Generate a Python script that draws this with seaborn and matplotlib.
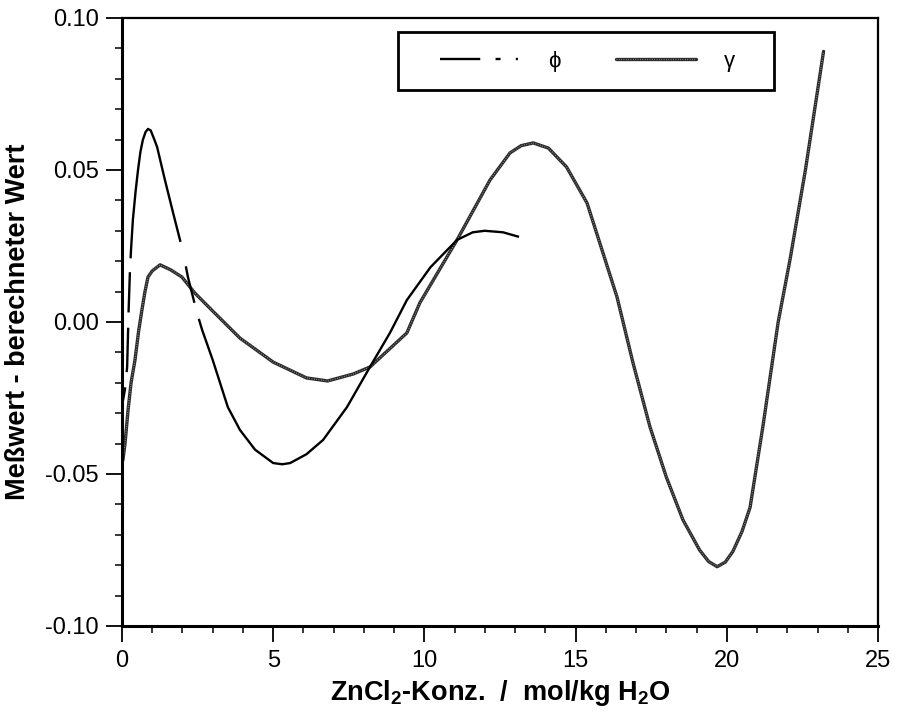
import matplotlib
matplotlib.use("Agg")
import matplotlib.pyplot as plt
from matplotlib.lines import Line2D
from matplotlib.patches import Rectangle
from matplotlib.legend_handler import HandlerTuple
from matplotlib.ticker import MultipleLocator, FixedLocator
import seaborn as sns
import pandas as pd

# Deviation (measured - calculated) for the osmotic coefficient phi
phi_conc = [0.03, 0.10, 0.17, 0.22, 0.26, 0.30, 0.36, 0.45, 0.53, 0.61, 0.69, 0.78,
            0.86, 0.95, 1.05, 1.16, 1.42, 1.69, 2.02, 2.18, 2.48, 2.65, 3.00, 3.50,
            3.90, 4.40, 5.00, 5.30, 5.56, 6.10, 6.65, 7.44, 8.20, 8.86, 9.42, 10.20,
            11.08, 11.60, 12.00, 12.60, 13.13]
phi_dev = [-0.026, -0.022, -0.0148, 0.004, 0.016, 0.024, 0.0336, 0.043, 0.050, 0.056,
           0.0599, 0.0625, 0.0635, 0.063, 0.0605, 0.0576, 0.0467, 0.0359, 0.023, 0.0148,
           0.003, -0.0026, -0.0125, -0.028, -0.0355, -0.042, -0.0464, -0.0468, -0.0464,
           -0.0435, -0.0388, -0.028, -0.0148, -0.0036, 0.0072, 0.018, 0.027, 0.0295,
           0.030, 0.0295, 0.028]

# Deviation (measured - calculated) for the activity coefficient gamma
gam_conc = [0.00, 0.03, 0.10, 0.20, 0.30, 0.43, 0.55, 0.66, 0.76, 0.86, 1.00, 1.26,
            1.60, 1.98, 2.41, 3.00, 3.90, 5.00, 6.10, 6.80, 7.65, 8.20, 9.42, 9.85,
            11.08, 12.17, 12.83, 13.20, 13.60, 14.10, 14.70, 15.38, 15.80, 16.37,
            16.90, 17.46, 18.00, 18.55, 19.10, 19.40, 19.68, 19.95, 20.20, 20.50,
            20.77, 21.20, 21.70, 22.10, 22.60, 23.20]
gam_dev = [-0.046, -0.0454, -0.040, -0.029, -0.020, -0.0125, -0.003, 0.004, 0.010,
           0.0148, 0.0168, 0.0188, 0.0172, 0.0148, 0.0095, 0.0036, -0.0053, -0.0132,
           -0.0184, -0.0194, -0.0171, -0.0148, -0.0036, 0.0063, 0.027, 0.0467, 0.0556,
           0.0580, 0.0589, 0.0572, 0.051, 0.0391, 0.026, 0.0082, -0.0135, -0.0345,
           -0.051, -0.0651, -0.075, -0.0788, -0.0805, -0.079, -0.0755, -0.069,
           -0.061, -0.034, 0.000, 0.021, 0.050, 0.089]

x_ticks = [0, 5, 10, 15, 20, 25]
y_ticks = [-0.10, -0.05, 0.00, 0.05, 0.10]
y_ticklabels = ["-0.10", "-0.05", "0.00", "0.05", "0.10"]

sns.set_style("ticks")
plt.rcParams["font.family"] = ["Liberation Sans", "DejaVu Sans"]
plt.rcParams["mathtext.fontset"] = "custom"
plt.rcParams["mathtext.rm"] = "Liberation Sans"
plt.rcParams["mathtext.bf"] = "Liberation Sans:bold"
plt.rcParams["lines.scale_dashes"] = False
plt.rcParams["text.color"] = "black"
plt.rcParams["axes.labelcolor"] = "black"

fig = plt.figure(figsize=(8.97, 7.16), dpi=100)
ax = fig.add_axes([0.136, 0.1257, 0.8428, 0.8492])

phi_df = pd.DataFrame({"c": phi_conc, "d": phi_dev})
gam_df = pd.DataFrame({"c": gam_conc, "d": gam_dev})

# gamma: dark grainy line (dark base with a light speckle on top)
sns.lineplot(data=gam_df, x="c", y="d", ax=ax, sort=False, estimator=None,
             color="#2a2a2a", linewidth=2.4)
g_base = ax.lines[-1]
sns.lineplot(data=gam_df, x="c", y="d", ax=ax, sort=False, estimator=None,
             color="white", linewidth=0.9, alpha=0.55)
g_top = ax.lines[-1]
g_top.set_linestyle((0, (0.5, 1.2)))

# phi: dash-dot pattern drawn along the curve
sns.lineplot(data=phi_df, x="c", y="d", ax=ax, sort=False, estimator=None,
             color="black", linewidth=1.7)
phi_line = ax.lines[-1]
phi_line.set_linestyle((0, (10, 11, 32, 11, 29, 10, 180, 18, 27, 12, 2500, 1)))
phi_line.set_dash_capstyle("butt")

ax.set_xlim(0, 25)
ax.set_ylim(-0.10, 0.10)
ax.xaxis.set_major_locator(FixedLocator(x_ticks))
ax.xaxis.set_minor_locator(MultipleLocator(1))
ax.yaxis.set_major_locator(FixedLocator(y_ticks))
ax.yaxis.set_minor_locator(MultipleLocator(0.01))
ax.set_yticklabels(y_ticklabels)
ax.tick_params(axis="both", which="major", direction="out", length=11.5, width=1.3,
               labelsize=17, color="black", labelcolor="black")
ax.tick_params(axis="x", which="major", pad=6)
ax.tick_params(axis="y", which="major", pad=5)
ax.tick_params(axis="both", which="minor", direction="out", length=5, width=1.1,
               color="black")
ax.tick_params(top=False, right=False, which="both")

for side in ["left", "bottom"]:
    ax.spines[side].set_linewidth(2.2)
for side in ["top", "right"]:
    ax.spines[side].set_linewidth(1.6)
for s in ax.spines.values():
    s.set_color("black")

ax.set_xlabel(r"ZnCl$_\mathbf{2}$-Konz.  /  mol/kg H$_\mathbf{2}$O",
              fontsize=19.5, fontweight="bold", color="black")
ax.set_ylabel("Meßwert - berechneter Wert", fontsize=19.5, fontweight="bold",
              color="black")
ax.xaxis.set_label_coords(0.5, -0.0855)
ax.yaxis.set_label_coords(-0.120, 0.5)

# legend frame
ax.add_patch(Rectangle((0.365, 0.882), 0.497, 0.095, transform=ax.transAxes,
                       facecolor="white", edgecolor="black", linewidth=2.0,
                       zorder=5))

phi_proxy = Line2D([], [], color="black", linewidth=1.7,
                   linestyle=(0, (29, 11, 3.6, 11, 1.5, 40)))
leg = ax.legend([phi_proxy, (g_base, g_top)], ["\u03d5", "\u03b3"],
                handler_map={tuple: HandlerTuple(ndivide=1, pad=0)},
                ncol=2, loc="center left", bbox_to_anchor=(0.4206, 0.929),
                borderaxespad=0, borderpad=0, fontsize=16, handlelength=3.6,
                handletextpad=1.25, columnspacing=2.5, frameon=False)
leg.set_zorder(6)

fig.savefig("out.png", dpi=100, facecolor="white")
